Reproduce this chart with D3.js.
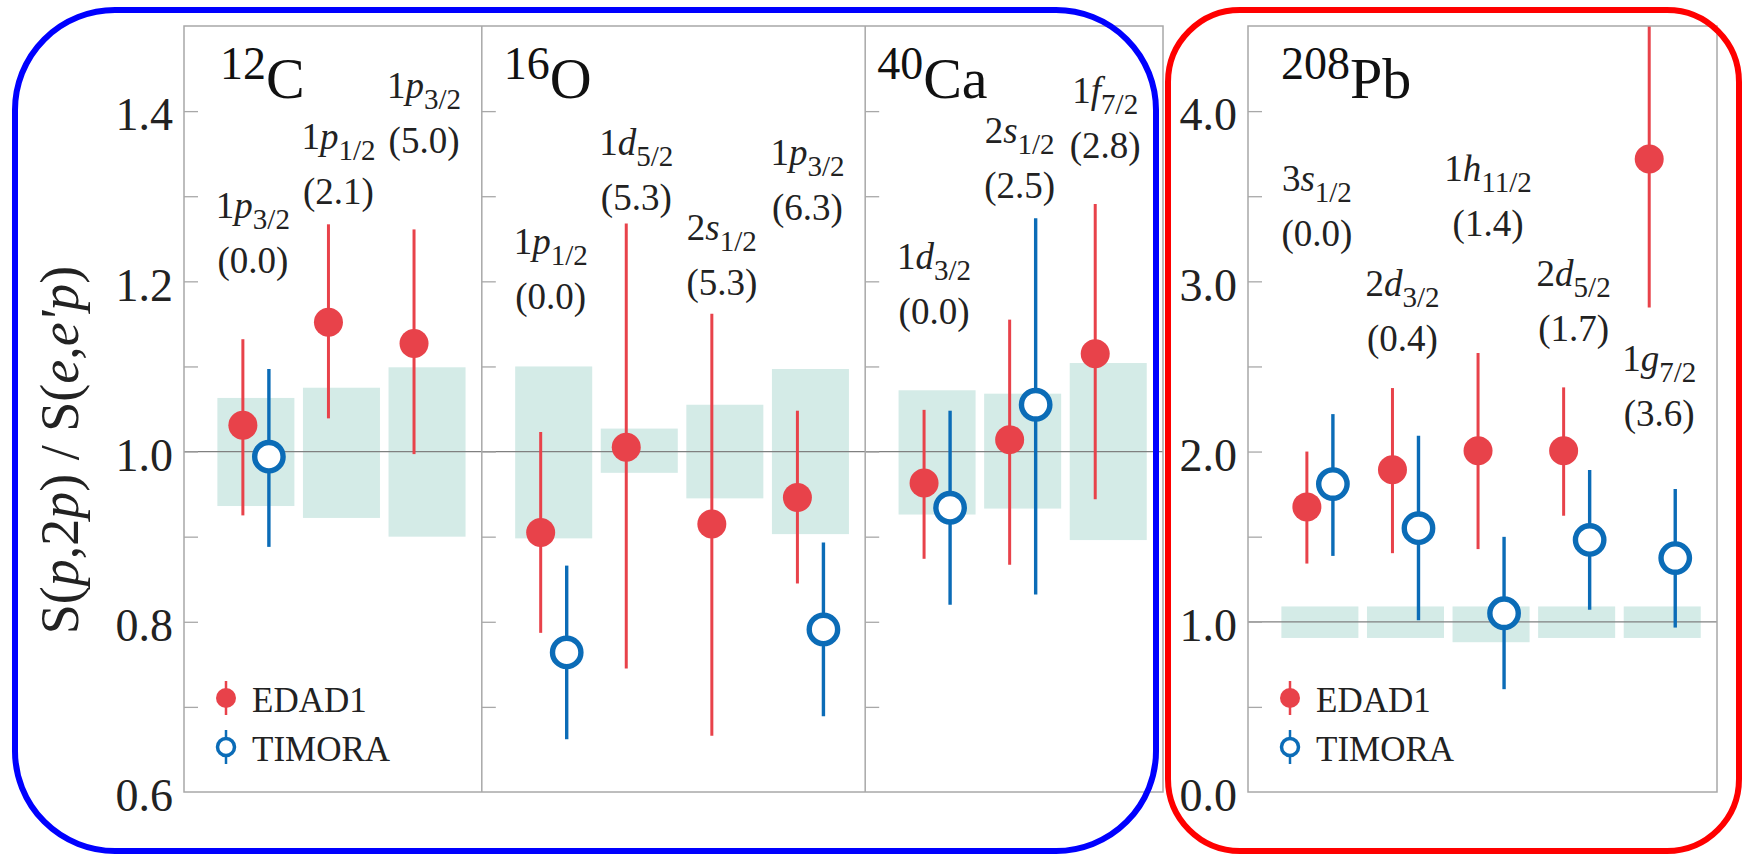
<!DOCTYPE html>
<html><head><meta charset="utf-8">
<script src="https://cdn.jsdelivr.net/npm/d3@7"></script>
<style>
body{margin:0;background:#fff;} svg{display:block;}
</style>
</head><body>
<svg id="c" width="1742" height="854"></svg>
<script>
// ---------------- data ----------------
const massNumbers = ["12", "16", "40", "208"];
const elements = ["C", "O", "Ca", "Pb"];
const shells = [
  ["1p3/2", "1p1/2", "1p3/2"],
  ["1p1/2", "1d5/2", "2s1/2", "1p3/2"],
  ["1d3/2", "2s1/2", "1f7/2"],
  ["3s1/2", "2d3/2", "1h11/2", "2d5/2", "1g7/2"]
];
const energies = [
  ["0.0", "2.1", "5.0"],
  ["0.0", "5.3", "5.3", "6.3"],
  ["0.0", "2.5", "2.8"],
  ["0.0", "0.4", "1.4", "1.7", "3.6"]
];
const edad1 = [[1.031, 1.152, 1.127], [0.905, 1.005, 0.915, 0.946], [0.963, 1.014, 1.115], [1.675, 1.893, 2.005, 2.005, 3.719]];
const edad1Lo = [[0.925, 1.039, 0.997], [0.787, 0.745, 0.666, 0.845], [0.874, 0.867, 0.944], [1.342, 1.403, 1.427, 1.623, 2.847]];
const edad1Hi = [[1.132, 1.267, 1.261], [1.023, 1.268, 1.162, 1.048], [1.049, 1.155, 1.291], [2.0, 2.373, 2.579, 2.377, 4.6]];
const timora = [[0.994, null, null], [0.764, null, null, 0.791], [0.934, 1.055, null], [1.809, 1.55, 1.05, 1.481, 1.374]];
const timoraLo = [[0.888, null, null], [0.662, null, null, 0.689], [0.82, 0.832, null], [1.387, 1.009, 0.604, 1.07, 0.966]];
const timoraHi = [[1.097, null, null], [0.866, null, null, 0.893], [1.048, 1.274, null], [2.22, 2.093, 1.499, 1.891, 1.78]];
const sysLo = [[0.936, 0.922, 0.90], [0.898, 0.975, 0.945, 0.903], [0.926, 0.933, 0.896], [0.905, 0.905, 0.88, 0.905, 0.905]];
const sysHi = [[1.063, 1.075, 1.099], [1.10, 1.027, 1.055, 1.097], [1.072, 1.068, 1.104], [1.09, 1.09, 1.09, 1.09, 1.09]];
const labelY = [[1.274, 1.355, 1.415], [1.232, 1.349, 1.249, 1.337], [1.214, 1.362, 1.410], [3.533, 2.916, 3.592, 2.975, 2.475]];
const leftTickLabels = [0.6, 0.8, 1.0, 1.2, 1.4];
const leftMinorTicks = [0.7, 0.8, 0.9, 1.0, 1.1, 1.2, 1.3, 1.4];
const rightTickLabels = [0.0, 1.0, 2.0, 3.0, 4.0];
const rightMinorTicks = [0.5, 1.0, 1.5, 2.0, 2.5, 3.0, 3.5, 4.0];
const legendNames = ["EDAD1", "TIMORA"];

// ---------------- layout ----------------
const RED = "#e8424a", BLUE = "#0b6cb7", BOX = "#d4ebe7", FRAME = "#a8a8a8";
const FONT = '"Liberation Serif"';
const TOP = 26, BOTTOM = 792;
const padL = 0.84, padR = 0.64, boxHalf = 0.45, pairOff = 0.152;
const titleOffset = [36, 22, 12, 33];

const svg = d3.select("#c");

const groups = [
  { panels: [0, 1, 2], x0: 184, x1: 1163, domain: [0.6, 1.5], ticks: leftTickLabels, minor: leftMinorTicks, refLine: 1.0 },
  { panels: [3], x0: 1248, x1: 1717, domain: [0, 4.5], ticks: rightTickLabels, minor: rightMinorTicks, refLine: 1.0 }
];

groups.forEach((g, gi) => {
  const units = d3.sum(g.panels, p => shells[p].length - 1 + padL + padR);
  const x = d3.scaleLinear().domain([0, units]).range([g.x0, g.x1]);
  const y = d3.scaleLinear().domain(g.domain).range([BOTTOM, TOP]);
  const G = svg.append("g");
  const clipId = "clip" + gi;
  svg.append("clipPath").attr("id", clipId).append("rect")
    .attr("x", g.x0).attr("y", TOP).attr("width", g.x1 - g.x0).attr("height", BOTTOM - TOP);

  let off = 0;
  const panelInfo = g.panels.map(p => {
    const start = off;
    off += shells[p].length - 1 + padL + padR;
    return { p, start, end: off };
  });

  // systematic boxes
  panelInfo.forEach(pi => {
    const p = pi.p;
    G.append("g").selectAll("rect").data(shells[p].map((s, j) => j)).join("rect")
      .attr("x", j => x(pi.start + padL + j - boxHalf))
      .attr("width", j => x(pi.start + padL + j + boxHalf) - x(pi.start + padL + j - boxHalf))
      .attr("y", j => y(sysHi[p][j]))
      .attr("height", j => y(sysLo[p][j]) - y(sysHi[p][j]))
      .attr("fill", BOX);
  });

  // reference line
  G.append("line").attr("x1", g.x0).attr("x2", g.x1)
    .attr("y1", y(g.refLine)).attr("y2", y(g.refLine))
    .attr("stroke", "#808080").attr("stroke-width", 1.2);

  // minor ticks on each panel's left edge
  panelInfo.forEach(pi => {
    const ax = d3.axisRight(y).tickValues(g.minor).tickSize(14).tickFormat("");
    const a = G.append("g").attr("transform", `translate(${x(pi.start)},0)`).call(ax);
    a.select(".domain").remove();
    a.selectAll("line").attr("stroke", FRAME).attr("stroke-width", 1.3);
  });

  // tick labels
  const lab = d3.axisLeft(y).tickValues(g.ticks).tickSize(0).tickPadding(11).tickFormat(d3.format(".1f"));
  const la = G.append("g").attr("transform", `translate(${g.x0},0)`).call(lab);
  la.select(".domain").remove();
  la.attr("font-family", null).attr("font-size", null);
  la.selectAll("text").attr("font-size", 46).attr("fill", "#222").attr("dy", "0.41em");

  // data
  const D = G.append("g").attr("clip-path", `url(#${clipId})`);
  panelInfo.forEach(pi => {
    const p = pi.p;
    const idx = shells[p].map((s, j) => j);
    D.append("g").selectAll("line").data(idx).join("line")
      .attr("x1", j => x(pi.start + padL + j - pairOff)).attr("x2", j => x(pi.start + padL + j - pairOff))
      .attr("y1", j => y(edad1Hi[p][j])).attr("y2", j => y(edad1Lo[p][j]))
      .attr("stroke", RED).attr("stroke-width", 3);
    D.append("g").selectAll("circle").data(idx).join("circle")
      .attr("cx", j => x(pi.start + padL + j - pairOff)).attr("cy", j => y(edad1[p][j]))
      .attr("r", 14.5).attr("fill", RED);
    const tIdx = idx.filter(j => timora[p][j] !== null);
    D.append("g").selectAll("line").data(tIdx).join("line")
      .attr("x1", j => x(pi.start + padL + j + pairOff)).attr("x2", j => x(pi.start + padL + j + pairOff))
      .attr("y1", j => y(timoraHi[p][j])).attr("y2", j => y(timoraLo[p][j]))
      .attr("stroke", BLUE).attr("stroke-width", 3.4);
    D.append("g").selectAll("circle").data(tIdx).join("circle")
      .attr("cx", j => x(pi.start + padL + j + pairOff)).attr("cy", j => y(timora[p][j]))
      .attr("r", 14.2).attr("fill", "#fff").attr("stroke", BLUE).attr("stroke-width", 5.4);

    // orbital labels
    idx.forEach(j => {
      const cx = x(pi.start + padL + j) - 3;
      const m = shells[p][j].match(/^(\d)([a-z])(.+)$/);
      const t = G.append("text").attr("x", cx).attr("y", y(labelY[p][j]))
        .attr("text-anchor", "middle").attr("font-size", 37).attr("fill", "#222");
      t.append("tspan").text(m[1]);
      t.append("tspan").attr("font-style", "italic").text(m[2]);
      t.append("tspan").attr("font-size", 29).attr("dy", 11).text(m[3]);
      G.append("text").attr("x", cx).attr("y", y(labelY[p][j]) + 55)
        .attr("text-anchor", "middle").attr("font-size", 37).attr("fill", "#222")
        .text("(" + energies[p][j] + ")");
    });

    // title
    const tt = G.append("text").attr("x", x(pi.start) + titleOffset[p]).attr("y", 98).attr("fill", "#111");
    tt.append("tspan").attr("font-size", 46).attr("dy", -19).text(massNumbers[p]);
    tt.append("tspan").attr("font-size", 58).attr("dy", 19).text(elements[p]);
  });

  // frame
  G.append("rect").attr("x", g.x0).attr("y", TOP).attr("width", g.x1 - g.x0).attr("height", BOTTOM - TOP)
    .attr("fill", "none").attr("stroke", FRAME).attr("stroke-width", 1.5);
  panelInfo.slice(1).forEach(pi => {
    G.append("line").attr("x1", x(pi.start)).attr("x2", x(pi.start)).attr("y1", TOP).attr("y2", BOTTOM)
      .attr("stroke", FRAME).attr("stroke-width", 1.5);
  });

  // legend
  const lx = g.x0 + 42, ly = [698, 747];
  const L = G.append("g");
  L.append("line").attr("x1", lx).attr("x2", lx).attr("y1", ly[0] - 17).attr("y2", ly[0] + 17).attr("stroke", RED).attr("stroke-width", 2.5);
  L.append("circle").attr("cx", lx).attr("cy", ly[0]).attr("r", 10).attr("fill", RED);
  L.append("line").attr("x1", lx).attr("x2", lx).attr("y1", ly[1] - 17).attr("y2", ly[1] + 17).attr("stroke", BLUE).attr("stroke-width", 2.5);
  L.append("circle").attr("cx", lx).attr("cy", ly[1]).attr("r", 8.5).attr("fill", "#fff").attr("stroke", BLUE).attr("stroke-width", 3.5);
  legendNames.forEach((n, i) => {
    L.append("text").attr("x", lx + 26).attr("y", ly[i] + 14).attr("font-size", 35)
      .attr("fill", "#222").text(n);
  });
});

// y-axis title
const yt = svg.append("text").attr("transform", "translate(78,450) rotate(-90)")
  .attr("text-anchor", "middle").attr("font-size", 54).attr("fill", "#222");
yt.append("tspan").text("S(");
yt.append("tspan").attr("font-style", "italic").text("p");
yt.append("tspan").text(",2");
yt.append("tspan").attr("font-style", "italic").text("p");
yt.append("tspan").text(") / S(");
yt.append("tspan").attr("font-style", "italic").text("e");
yt.append("tspan").text(",");
yt.append("tspan").attr("font-style", "italic").text("e'p");
yt.append("tspan").text(")");

// apply font inline on every text
svg.selectAll("text, tspan").style("font-family", FONT);

// highlight frames
svg.append("rect").attr("x", 15).attr("y", 10).attr("width", 1141).attr("height", 841).attr("rx", 100)
  .attr("fill", "none").attr("stroke", "#0000ff").attr("stroke-width", 6);
svg.append("rect").attr("x", 1168).attr("y", 10).attr("width", 571).attr("height", 841).attr("rx", 72)
  .attr("fill", "none").attr("stroke", "#ff0000").attr("stroke-width", 6);
</script>
</body></html>
